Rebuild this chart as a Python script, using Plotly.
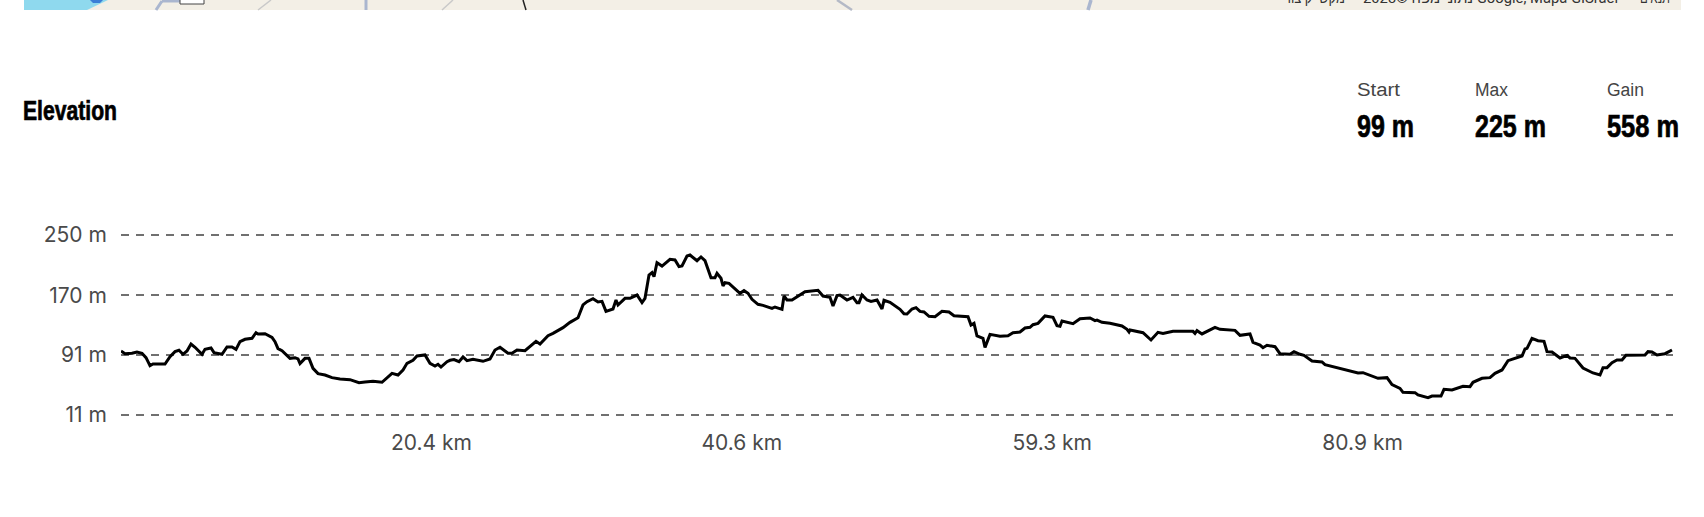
import json
import plotly.graph_objects as go

# Route position along the axis (the source axis is evenly spaced by sample, not by km)
route_pos = [
0,4,11,16,21,25,27,29,32,44,49,54,58,62,66,70,74,81,84,90,93,101,106,111,115,119,124,131,135,137,144,151,154,157,161,169,174,177,179,184,188,192,197,204,211,219,229,238,244,252,261,266,271,277,282,286,292,296,304,309,314,317,320,326,329,
333,338,342,346,352,362,369,374,379,387,391,396,404,411,415,419,427,432,442,449,457,462,466,472,477,481,485,492,495,497,504,509,516,521,524,528,531,533,536,541,549,554,558,561,566,569,576,580,584,590,594,596,600,602,604,608,614,619,623,627,631,637,642,651,654,661,663,666,671,679,684,697,702,709,712,716,719,726,732,736,738,741,746,750,756,761,763,769,776,779,
783,786,791,795,799,803,808,814,821,828,833,847,850,853,856,862,864,869,879,887,892,899,904,909,912,917,924,932,936,939,941,952,959,969,974,976,981,989,1001,1006,1008,1009,1022,1030,1037,1042,1052,1072,1074,1076,1081,1089,1094,1099,1114,1119,1129,1132,1139,1142,1146,1154,1159,1169,1173,1179,
1183,1191,1201,1204,1222,1237,1242,1257,1266,1271,1279,1282,1294,1297,1307,1311,1320,1323,1331,1342,1349,1352,1361,1369,1374,1381,1387,1401,1404,1406,1411,1417,1423,1426,1431,1439,1446,1449,1454,1462,1472,1479,1482,1486,1491,1496,1501,1505,1524,1527,1531,1536,1544,1551]

elevation_m = [
96.0,92.4,92.9,94.7,92.9,87.1,81.8,76.5,78.7,78.7,88.5,95.1,96.9,91.6,96.0,105.3,100.9,91.6,98.2,100.0,93.8,91.6,101.3,101.3,98.2,108.4,111.5,112.8,120.3,118.6,119.0,114.1,108.4,99.1,96.4,86.2,87.1,85.4,79.2,86.2,86.2,73.0,65.9,64.1,60.6,58.8,57.9,53.9,54.8,55.7,54.4,60.6,66.3,64.1,70.8,79.6,83.6,89.3,90.7,79.6,76.1,78.3,74.7,81.8,83.6,
84.5,81.8,88.0,83.1,84.9,82.3,85.4,97.3,100.9,92.9,92.9,97.3,96.4,104.0,108.8,105.3,116.3,119.4,127.0,134.0,140.2,157.1,161.5,165.5,161.0,161.9,148.6,151.7,163.7,157.1,165.9,165.9,170.3,160.2,165.9,196.9,200.0,194.7,213.3,208.8,217.7,216.8,208.0,208.8,222.1,223.4,215.9,220.8,215.9,193.4,193.4,199.1,192.5,182.3,186.7,185.8,178.3,172.6,176.1,172.6,164.6,158.0,156.6,152.6,154.4,151.3,169.0,163.7,163.7,170.3,174.8,176.5,169.0,167.2,155.7,169.5,170.3,163.7,167.2,160.2,160.2,170.3,163.7,161.9,163.7,151.7,163.3,160.6,154.8,151.3,
145.5,145.1,151.7,153.5,148.6,147.8,142.0,141.6,148.6,147.8,142.9,141.6,130.5,132.7,115.9,112.8,100.8,118.1,115.5,116.3,120.3,121.2,126.5,127.4,130.9,132.7,142.5,140.7,129.6,128.7,135.8,132.3,138.9,139.8,136.3,137.1,134.0,132.7,129.2,124.8,121.2,123.9,120.3,110.6,120.8,119.4,122.1,122.1,119.4,123.0,118.6,123.9,127.4,124.8,123.4,116.8,118.6,107.5,103.9,100.4,103.5,101.7,92.4,91.6,95.1,91.6,
90.2,82.7,81.4,77.8,72.1,66.8,67.2,59.7,60.6,51.3,46.4,41.1,40.7,37.6,34.0,36.2,36.2,45.1,44.2,49.1,48.6,54.4,59.7,60.6,66.3,70.8,83.1,89.3,98.6,99.5,112.8,109.7,108.8,95.1,94.7,86.7,90.2,86.7,86.2,73.4,66.8,64.1,73.9,73.9,80.5,84.0,84.0,90.2,90.7,95.1,94.7,90.7,92.4,97.3]

y_ticks = [11, 91, 170, 250]
y_labels = ["11 m", "91 m", "170 m", "250 m"]
x_ticks = [310.4, 620.8, 931.2, 1241.6]
x_labels = ["20.4 km", "40.6 km", "59.3 km", "80.9 km"]
stat_names = ["Start", "Max", "Gain"]
stat_values = ["99 m", "225 m", "558 m"]
map_terms = "תנאים"
map_credit = "\u202bGoogle, Mapa GISrael נתוני מפה ©2023\u202c"
map_keys = "מקשי קיצור"

W, H = 1704, 517
PAD = 4
L, R, T, B = 121, 1673, 235 - PAD, 415 + PAD
M_PER_PX = 239 / 180
def px(x): return (x - L) / (R - L)
def py(y): return (B - y) / (B - T)

TICK_FONT = dict(family="Inter, sans-serif", size=21, color="#4a4a4a")
COND = "'Liberation Sans', sans-serif"

fig = go.Figure(go.Scatter(x=route_pos, y=elevation_m, mode="lines",
                           line=dict(color="#000000", width=3), hoverinfo="skip"))

annotations = []
def text(x, y, s, size, color, anchor="left", family=COND, weight=400):
    annotations.append(dict(xref="paper", yref="paper", x=px(x), y=py(y), text=s,
        showarrow=False, xanchor=anchor, yanchor="middle",
        font=dict(family=family, size=size, color=color, weight=weight), borderpad=0, borderwidth=0))

text(23, 111, "Elevation", 27, "#000000", weight=700)
for x, name, val in zip([1357, 1475, 1607], stat_names, stat_values):
    text(x, 90, name, 18, "#444444")
    text(x, 126, val, 32, "#000000", weight=700)

# map strip fragment cropped at the top of the page
shapes = []
def rect(x0, y0, x1, y1, color):
    shapes.append(dict(type="rect", xref="paper", yref="paper", x0=px(x0), x1=px(x1), y0=py(y0), y1=py(y1),
                       fillcolor=color, line=dict(width=0), layer="below"))
def seg(x0, y0, x1, y1, color, width):
    shapes.append(dict(type="line", xref="paper", yref="paper", x0=px(x0), x1=px(x1), y0=py(y0), y1=py(y1),
                       line=dict(color=color, width=width), layer="below"))
def poly(points, color):
    path = "M " + " L ".join(f"{px(a)} {py(b)}" for a, b in points) + " Z"
    shapes.append(dict(type="path", xref="paper", yref="paper", path=path,
                       fillcolor=color, line=dict(width=0), layer="below"))

rect(24, 0, 1681, 10, "#f3efe6")
poly([(24, 0), (108, 0), (87, 10), (24, 10)], "#8fd9ee")
seg(156, 10, 162, 1, "#aab6cf", 3)
seg(162, 1, 180, 1, "#aab6cf", 3)
seg(258, 10, 271, 0, "#c9c9c9", 1.5)
seg(366, 0, 366, 10, "#aab6cf", 3)
seg(442, 10, 453, 0, "#c9c9c9", 1.5)
seg(523, 0, 526, 10, "#222222", 1.5)
seg(837, 0, 852, 10, "#b4b9c6", 2.5)
seg(1091, 0, 1088, 10, "#aab6cf", 3.5)
rect(180, -2, 204, 4, "#ffffff")
seg(180, 4, 204, 4, "#444444", 1)
seg(180, 0, 180, 4, "#444444", 1)
seg(204, 0, 204, 4, "#444444", 1)
poly([(90, 0), (103, 0), (100, 3), (93, 3)], "#3b7fd6")

ATTR = "Roboto, 'Noto Sans', sans-serif"
text(1640, -2, map_terms, 15, "#333333", "left", ATTR)
text(1363, -2, map_credit, 15, "#333333", "left", ATTR)
text(1284, -2, map_keys, 15, "#333333", "left", ATTR)

# widths the condensed text occupies in the reference
squeeze = {"Elevation": 94, "Start": 43, "Max": 33, "Gain": 37,
           "99 m": 57, "225 m": 71, "558 m": 72,
           map_terms: 30, map_credit: 255, map_keys: 61}
bold_texts = ["Elevation"] + stat_values

fig.update_layout(
    width=W, height=H, margin=dict(l=L, r=W - R, t=T, b=H - B), autosize=False,
    paper_bgcolor="#ffffff", plot_bgcolor="#ffffff", showlegend=False,
    annotations=annotations, shapes=shapes,
    xaxis=dict(range=[0, R - L], tickmode="array", tickvals=x_ticks, ticktext=x_labels,
               showgrid=False, zeroline=False, showline=False, ticks="outside", ticklen=5,
               tickcolor="rgba(0,0,0,0)", tickfont=TICK_FONT),
    yaxis=dict(range=[11 - PAD * M_PER_PX, 250 + PAD * M_PER_PX], tickmode="array",
               tickvals=y_ticks, ticktext=y_labels,
               showgrid=True, gridcolor="#707070", gridwidth=2, griddash="8px,7px",
               zeroline=False, showline=False, ticks="outside", ticklen=9,
               tickcolor="rgba(0,0,0,0)", tickfont=TICK_FONT),
)

post = """
var squeeze = %s;
var boldTexts = %s;
function applySqueeze() {
  document.querySelectorAll('.annotation-text').forEach(function (el) {
    var w = squeeze[el.textContent];
    if (!w || el.getAttribute('textLength')) return;
    var b = el.getBBox();
    el.setAttribute('text-anchor', 'start');
    el.setAttribute('x', b.x);
    el.setAttribute('textLength', w);
    el.setAttribute('lengthAdjust', 'spacingAndGlyphs');
    if (boldTexts.indexOf(el.textContent) >= 0) {
      el.style.stroke = '#000000';
      el.style.strokeWidth = '0.7px';
    }
  });
}
document.body.style.margin = '0';
document.body.style.overflow = 'hidden';
applySqueeze();
setTimeout(applySqueeze, 50);
""" % (json.dumps(squeeze), json.dumps(bold_texts))
fig.write_html("out.html", config=dict(displayModeBar=False), post_script=post)
